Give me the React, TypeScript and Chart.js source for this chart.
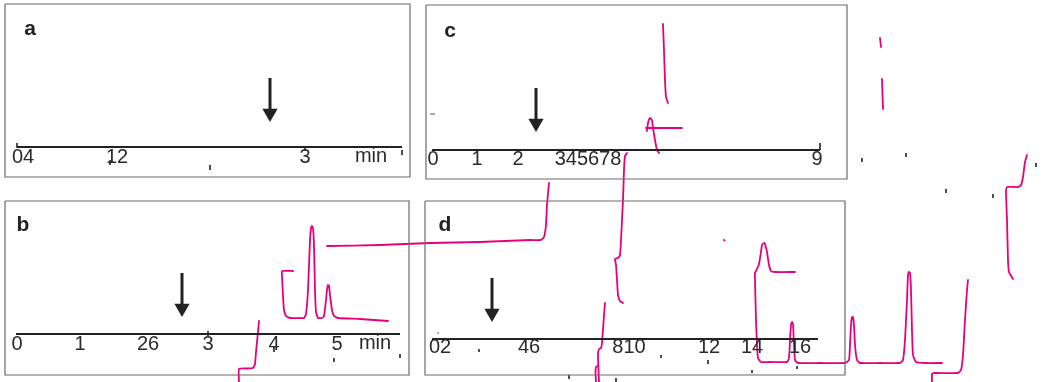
import React, { useEffect, useRef } from 'react';
import { Chart, registerables } from 'chart.js';

Chart.register(...registerables);

// ---- figure space: x 0..1047, y 0..382 (top to bottom) ----

// magenta chromatogram traces
const traceTopC = [[663, 24], [664, 50], [665, 80], [666, 97], [668, 103]];
const traceSmallPeakC = [[647, 131], [648, 123], [650, 118], [652, 120], [653, 128], [655, 140], [657, 150], [659, 153]];
const traceFlatC = [[646, 128], [682, 128]];
const traceRightTop1 = [[880, 38], [881, 47]];
const traceRightTop2 = [[882, 79], [883, 109]];
const traceRightStep = [[1027, 155], [1025, 162], [1023, 177], [1021, 185], [1018, 187], [1007, 187], [1006, 191], [1007, 220], [1008, 260], [1009, 272], [1013, 279]];
const traceStepB = [[259, 321], [258, 332], [256, 352], [255, 364], [253, 368], [248, 368.5], [239, 369], [239, 382]];
const traceChromB = [
  [293, 271], [282, 271], [282, 276], [283, 296], [284, 310], [286, 316], [290, 318], [300, 318], [304, 318],
  [306, 314], [308, 290], [310, 240], [311, 228], [312, 226], [313, 228], [314, 245], [315, 290], [316, 312],
  [318, 318], [322, 318], [324, 316], [326, 300], [327, 290], [328, 285], [329, 286], [330, 295], [332, 310],
  [334, 316], [338, 318], [360, 319], [388, 321],
];
const traceLongFlat = [[327, 246], [380, 245], [430, 243], [480, 242], [530, 240], [541, 240], [544, 237], [546, 225], [547, 205], [549, 183]];
const traceMidVertical = [[627, 153], [625, 156], [624, 170], [623, 200], [621, 240], [620, 255], [618, 258], [615, 259], [616, 265], [617, 280], [618, 295], [620, 301], [623, 303]];
const traceLowVertical = [[605, 303], [604, 315], [603, 330], [602, 343], [601, 348], [599, 349], [598, 355], [599, 382]];
const traceLowHook = [[596, 382], [595.5, 372], [596, 367], [597.5, 366]];
const traceChromD = [
  [795, 272], [775, 272], [771, 271], [769, 265], [767, 252], [765, 244], [764, 243], [762, 245], [761, 252],
  [759, 264], [757, 269], [755, 273], [755, 280], [756, 320], [757, 345], [758, 358], [761, 362], [770, 362],
  [787, 362], [789, 358], [790, 340], [791, 325], [792, 322], [793, 324], [794, 345], [795, 360], [798, 363],
  [820, 363], [845, 363], [849, 360], [850, 345], [851, 325], [852, 317], [853, 317], [854, 325], [855, 345],
  [857, 360], [860, 363], [880, 363], [900, 363], [903, 360], [905, 340], [907, 300], [908, 275], [909, 272],
  [910, 273], [911, 290], [912, 330], [913, 355], [916, 362], [925, 363], [942, 363],
];
const traceStepD = [[932, 382], [932, 374], [934, 373], [958, 373], [961, 370], [963, 355], [965, 320], [967, 290], [968, 280]];
const traceDot = [[724, 240], [724.6, 240.6]];

const magentaTraces = [
  traceTopC, traceSmallPeakC, traceFlatC, traceRightTop1, traceRightTop2, traceRightStep, traceStepB,
  traceChromB, traceLongFlat, traceMidVertical, traceLowVertical, traceLowHook, traceChromD, traceStepD, traceDot,
];

// panel frames [left, top, right, bottom]
const panelFrames = [[5, 4, 410, 177], [5, 201, 409, 375], [426, 5, 847, 179], [425, 201, 845, 375]];
// time axes [x start, x end, y]
const axisLines = [[17, 402, 147], [16, 400, 334], [432, 820, 150], [432, 818, 339]];
// small tick marks [x, y1, y2]
const tickMarks = [
  [17, 143, 148], [110, 160, 165], [305, 146, 151], [210, 165, 170], [402, 150, 155],
  [208, 331, 336], [274, 347, 352], [334, 358, 362], [400, 354, 358],
  [820, 143, 150],
  [479, 349, 352], [661, 355, 358], [708, 360, 364], [752, 370, 373], [797, 366, 369], [569, 375, 379], [616, 378, 382],
  [862, 158, 162], [906, 153, 157], [946, 189, 193], [993, 194, 198], [1036, 163, 167],
];
// arrows: x, shaft top, tip
const arrowX = [270, 182, 536, 492];
const arrowTop = [78, 273, 88, 278];
const arrowTip = [122, 317, 132, 322];

// texts
const panelLetters = ['a', 'b', 'c', 'd'];
const panelLetterX = [30, 23, 450, 445];
const panelLetterY = [35, 231, 37, 231];

const tickLabelsA = ['04', '12', '3', 'min'];
const tickXA = [23, 117, 305, 371];
const tickLabelsB = ['0', '1', '26', '3', '4', '5', 'min'];
const tickXB = [17, 80, 148, 208, 274, 337, 375];
const tickLabelsC = ['0', '1', '2', '345678', '9'];
const tickXC = [433, 477, 518, 588, 817];
const tickLabelsD = ['02', '46', '810', '12', '14', '16'];
const tickXD = [440, 529, 629, 709, 752, 800];
const tickBaselines = [163, 350, 165, 353];

const toPts = (a: number[][]) => a.map(([x, y]) => ({ x, y }));

export default function App() {
  const ref = useRef<HTMLCanvasElement | null>(null);

  useEffect(() => {
    if (!ref.current) return;
    const datasets: any[] = [];
    const INK = '#222222';

    panelFrames.forEach(([l, t, r, b]) => {
      datasets.push({
        data: toPts([[l, t], [r, t], [r, b], [l, b], [l, t]]),
        showLine: true, borderColor: '#6b6b6b', borderWidth: 1.2, pointRadius: 0, tension: 0,
      });
    });
    axisLines.forEach(([x1, x2, y]) => {
      datasets.push({ data: toPts([[x1, y], [x2, y]]), showLine: true, borderColor: INK, borderWidth: 2, pointRadius: 0 });
    });
    tickMarks.forEach(([x, y1, y2]) => {
      datasets.push({ data: toPts([[x, y1], [x, y2]]), showLine: true, borderColor: INK, borderWidth: 1.6, pointRadius: 0 });
    });
    datasets.push({ data: toPts([[430, 114], [435, 114]]), showLine: true, borderColor: '#555', borderWidth: 1, pointRadius: 0 });
    datasets.push({ data: toPts([[438, 333]]), showLine: false, pointRadius: 0.8, backgroundColor: '#444', borderWidth: 0 });
    arrowX.forEach((x, i) => {
      datasets.push({ data: toPts([[x, arrowTop[i]], [x, arrowTip[i] - 10]]), showLine: true, borderColor: INK, borderWidth: 3, pointRadius: 0 });
      datasets.push({
        data: toPts([[x, arrowTip[i] - 8.8]]), showLine: false, pointStyle: 'triangle', rotation: 180,
        pointRadius: 8.8, backgroundColor: INK, borderColor: INK, borderWidth: 0,
      });
    });
    magentaTraces.forEach((tr) => {
      datasets.push({
        data: toPts(tr), showLine: true, borderColor: '#e6007e', borderWidth: 1.8, pointRadius: 0, tension: 0.15,
        borderCapStyle: 'round', borderJoinStyle: 'round',
      });
    });

    const textPlugin = {
      id: 'figureTexts',
      afterDatasetsDraw(chart: any) {
        const { ctx, scales } = chart;
        const sx = (v: number) => scales.x.getPixelForValue(v);
        const sy = (v: number) => scales.y.getPixelForValue(v);
        ctx.save();
        ctx.fillStyle = '#222';
        ctx.textAlign = 'center';
        ctx.textBaseline = 'alphabetic';
        ctx.font = 'bold 21px "Liberation Sans", Arial, sans-serif';
        panelLetters.forEach((t, i) => ctx.fillText(t, sx(panelLetterX[i]), sy(panelLetterY[i])));
        ctx.font = '20px "Liberation Sans", Arial, sans-serif';
        ctx.fillStyle = '#2a2a2a';
        const groups: [string[], number[]][] = [
          [tickLabelsA, tickXA], [tickLabelsB, tickXB], [tickLabelsC, tickXC], [tickLabelsD, tickXD],
        ];
        groups.forEach(([labels, xs], g) => {
          labels.forEach((t, i) => ctx.fillText(t, sx(xs[i]), sy(tickBaselines[g] - (t === 'min' ? 1 : 0))));
        });
        ctx.restore();
      },
    };

    const chart = new Chart(ref.current, {
      type: 'scatter',
      data: { datasets },
      options: {
        animation: false,
        responsive: false,
        devicePixelRatio: 1,
        events: [],
        layout: { padding: 0, autoPadding: false },
        plugins: { legend: { display: false }, tooltip: { enabled: false } },
        elements: { line: { fill: false } },
        datasets: { scatter: { clip: false } as any },
        scales: {
          x: { type: 'linear', min: 0, max: 1047, display: false },
          y: { type: 'linear', min: 0, max: 382, reverse: true, display: false },
        },
      },
      plugins: [textPlugin],
    });
    return () => chart.destroy();
  }, []);

  return (
    <div style={{ position: 'fixed', left: 0, top: 0, width: 1047, height: 382, background: '#fff' }}>
      <canvas ref={ref} width={1047} height={382} style={{ display: 'block', width: 1047, height: 382 }} />
    </div>
  );
}
